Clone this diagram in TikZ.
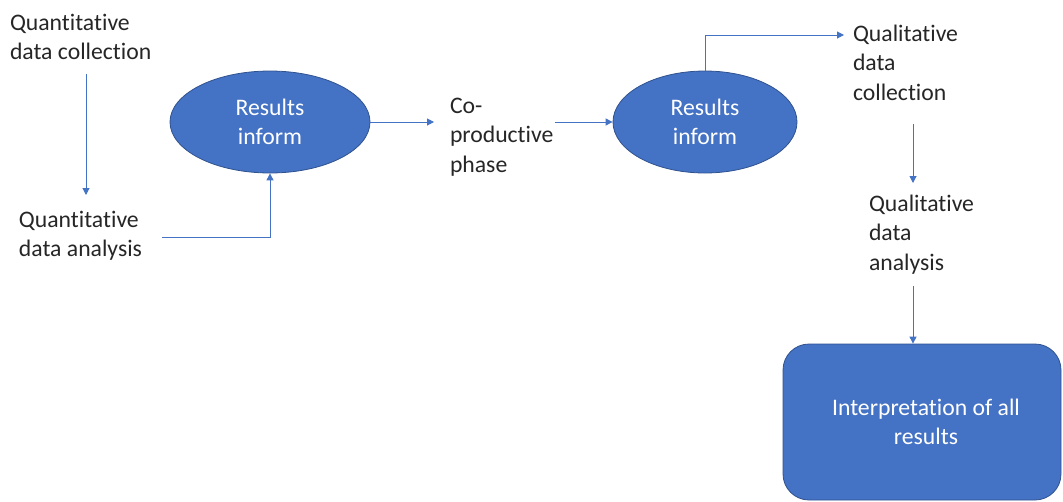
\documentclass[tikz,border=0pt]{standalone}
\usepackage{fontspec}
\setmainfont[Ligatures={NoCommon,NoRequired,NoContextual}]{Carlito}
\usetikzlibrary{arrows.meta,shapes.geometric}
\definecolor{offblue}{HTML}{4472C4}
\definecolor{offedge}{HTML}{2F528F}
\definecolor{inktext}{HTML}{262626}
\begin{document}
\begin{tikzpicture}[x=1pt,y=-1pt,
  every node/.style={font=\fontsize{23.7}{29.5}\selectfont},
  plain/.style={inner sep=0pt, outer sep=0pt, align=left, anchor=north west, text=inktext},
  bubble/.style={ellipse, draw=offedge, line width=0.8pt, fill=offblue, text=white, align=center, inner sep=0pt},
  panel/.style={rectangle, rounded corners=26pt, draw=offedge, line width=0.8pt, fill=offblue, text=white, align=center},
  arr/.style={draw=offblue, line width=1pt, -{Triangle[length=7pt,width=7pt]}},
]
\useasboundingbox (0,0) rectangle (1063,501);

% text labels
\node[plain] (qcoll) at (10,14) {Quantitative\\data collection};
\node[plain] (qana) at (19,211) {Quantitative\\data analysis};
\node[plain] (copr) at (450,98) {Co-\\productive\\phase};
\node[plain] (lcoll) at (853,25) {Qualitative\\data\\collection};
\node[plain] (lana) at (869,195) {Qualitative\\data\\analysis};

% filled shapes
\node[bubble, minimum width=200pt, minimum height=102pt] (e1) at (270,122) {Results\\inform};
\node[bubble, minimum width=184pt, minimum height=102pt] (e2) at (705,122) {Results\\inform};
\node[panel, minimum width=278pt, minimum height=156pt] (interp) at (922,422) {\hspace*{8pt}Interpretation of all\\\hspace*{8pt}results};

% guide columns for vertical connectors
\coordinate (colA) at (86,0);
\coordinate (colB) at (913,0);

% connectors
\draw[arr, shorten <=14pt, shorten >=16pt] (qcoll.south -| colA) -- (qana.north -| colA);
\draw[arr] ([shift={(20pt,-2pt)}]qana.east) -| (e1.south);
\draw[arr, shorten >=16pt] (e1.east) -- (copr.west |- e1.east);
\draw[arr, shorten <=2pt] (copr.east |- e2.west) -- (e2.west);
\draw[arr] (e2.north) |- ([shift={(-9pt,-10pt)}]lcoll.north west);
\draw[arr, shorten <=23pt, shorten >=12pt] (lcoll.south -| colB) -- (lana.north -| colB);
\draw[arr, shorten <=12pt] (lana.south -| colB) -- (interp.north -| colB);
\end{tikzpicture}
\end{document}
